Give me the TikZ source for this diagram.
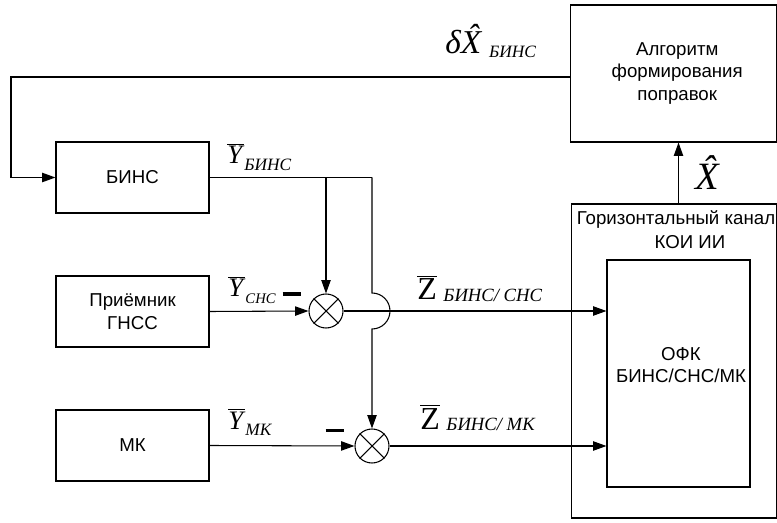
\documentclass[tikz,border=0pt]{standalone}
\usepackage{fontspec}
\setmainfont{Liberation Sans}
\newfontfamily\tms{Liberation Serif}
\usetikzlibrary{arrows.meta}
\newcommand\ovl[1]{\leavevmode\vbox{\hrule height 0.8pt\kern1.2pt\hbox{#1}}}
\newcommand\ylab[2][13]{{\tms\fontsize{20}{20}\selectfont\ovl{\textit{Y}}}\raisebox{-5pt}{\tms\fontsize{#1}{#1}\selectfont\textit{#2}}}
\newcommand\zlab[1]{{\tms\fontsize{24}{24}\selectfont\ovl{Z}}\hspace{5pt}\raisebox{-1pt}{\tms\fontsize{14}{14}\selectfont\textit{#1}}}
\tikzset{
  blk/.style={draw, line width=0.8pt, minimum width=114.75pt, minimum height=53.25pt, inner sep=0pt, align=center, font=\fontsize{14}{17}\selectfont},
  sumc/.style={draw, circle, line width=0.8pt, minimum size=25.5pt, inner sep=0pt},
  arr/.style={line width=0.8pt, -{Triangle[length=10pt,width=7pt]}},
  ln/.style={line width=0.8pt},
  txt/.style={inner sep=0pt, font=\fontsize{14}{17}\selectfont, align=center},
  lab/.style={inner sep=0pt, anchor=base west}
}
\begin{document}
\begin{tikzpicture}[x=0.75pt,y=-0.75pt]
\useasboundingbox (0,0) rectangle (777,523);
% blocks
\node[blk] (bins) at (132.5,177.5) {БИНС};
\node[blk] (gnss) at (132.5,311.5) {Приёмник\\ГНСС};
\node[blk] (mk) at (132.5,445.5) {МК};
\node[blk, minimum width=154.5pt, minimum height=102.75pt] (alg) at (673.2,73.5) {\hspace{6pt}Алгоритм\\\hspace{6pt}формирования\\\hspace{6pt}поправок};
\node[draw, line width=0.8pt, minimum width=153.75pt, minimum height=235.5pt, inner sep=0pt] (outer) at (673.6,361) {};
\node[txt] (hcl1) at (676,220) {Горизонтальный канал};
\node[txt] (hcl2) at (690,242) {КОИ ИИ};
\node[draw, line width=0.8pt, minimum width=107.25pt, minimum height=170.25pt, inner sep=0pt] (ofk) at (678.5,373.5) {};
\node[txt] (ofkt) at (681,365) {ОФК\\БИНС/СНС/МК};
% summators
\node[sumc] (s1) at (326,311) {};
\draw[ln] (s1.north east) -- (s1.south west) (s1.north west) -- (s1.south east);
\node[sumc] (s2) at (372,446) {};
\draw[ln] (s2.north east) -- (s2.south west) (s2.north west) -- (s2.south east);
% connectors
\coordinate (fb) at (570,77);
\coordinate (fbc) at (11,77);
\draw[arr] (fb) -- (fbc) |- (bins.west);
\coordinate (c1) at (372,177.5);
\coordinate (j1) at (372,293);
\draw[ln] (bins.east) -- (c1);
\draw[arr] (c1) -- (j1) arc[start angle=90, end angle=-90, radius=13.5pt] -- (s2.north);
\draw[arr] (s1.north |- bins.east) -- (s1.north);
\draw[arr] (gnss.east) -- (s1.west);
\draw[arr] (mk.east) -- (s2.west);
\draw[arr] (s1.east) -- (s1.east -| ofk.west);
\draw[arr] (s2.east) -- (s2.east -| ofk.west);
\draw[arr] (outer.north -| ofk.center) -- (alg.south -| ofk.center);
% labels
\node[lab] (ybins) at (227,164) {\ylab{БИНС}};
\node[lab] (ysns) at (228,297) {\ylab[11]{СНС}};
\node[lab] (ymk) at (228,429) {\ylab{МК}};
\node[inner sep=0pt] (m1) at (292,294) {\rule{14pt}{2.8pt}};
\node[inner sep=0pt] (m2) at (335,430.5) {\rule{14pt}{2.8pt}};
\node[lab] (z1) at (417,300) {\zlab{БИНС/ СНС}};
\node[lab] (z2) at (420,429) {\zlab{БИНС/ МК}};
\node[lab] (dx) at (445,54) {{\tms\fontsize{25}{25}\selectfont\itshape δ\accent"02C6 X}\hspace{6pt}\raisebox{-3pt}{\tms\fontsize{13}{13}\selectfont\textit{БИНС}}};
\node[lab] (xh) at (695,190) {{\tms\fontsize{29}{29}\selectfont\itshape\accent"02C6 X}};
\end{tikzpicture}
\end{document}
